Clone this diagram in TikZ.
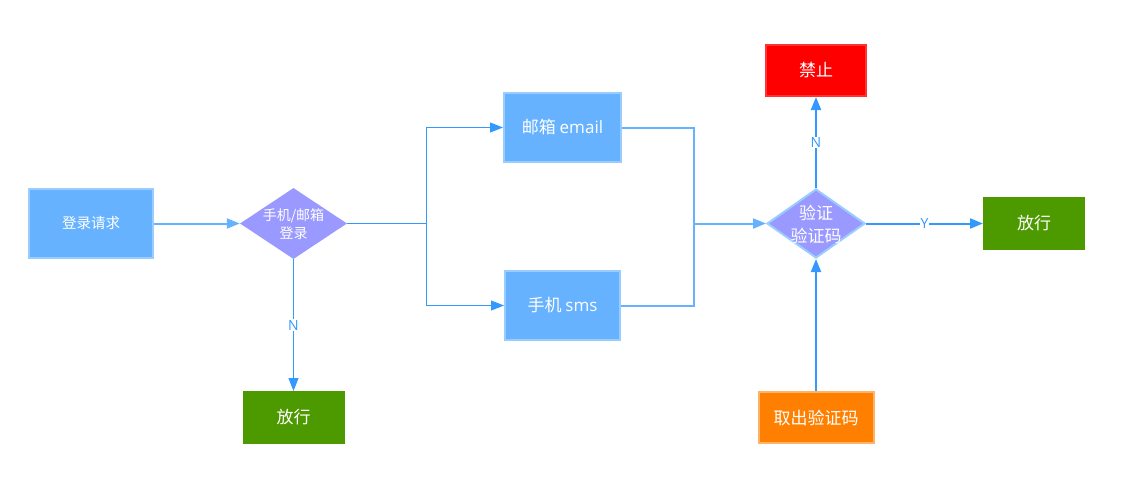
\documentclass[tikz,border=0pt]{standalone}
\usepackage{fontspec}
\setmainfont{Open Sans}
\newfontfamily\cjk{Noto Sans CJK SC}
\usetikzlibrary{shapes.geometric,arrows.meta}
\definecolor{boxblue}{HTML}{66B2FF}
\definecolor{boxblueb}{HTML}{99CCFF}
\definecolor{diafill}{HTML}{9999FF}
\definecolor{lndark}{HTML}{3399FF}
\definecolor{lnlight}{HTML}{66B2FF}
\definecolor{redf}{HTML}{FF0000}
\definecolor{redb}{HTML}{FF3333}
\definecolor{greenf}{HTML}{4D9900}
\definecolor{orangef}{HTML}{FF8000}
\definecolor{orangeb}{HTML}{FFB366}
\tikzset{
  box/.style={rectangle, inner sep=0pt, line width=2pt, text=white, font=\cjk\fontsize{17}{20}\selectfont},
  bluebox/.style={box, fill=boxblue, draw=boxblueb},
  dia/.style={diamond, inner sep=0pt, fill=diafill, minimum width=#1},
  txt/.style={text=white, align=center},
  lbl/.style={fill=white, inner sep=1pt, text=lndark, font=\fontsize{14}{16}\selectfont},
  tip/.style={-{Triangle[length=13pt,width=10pt]}},
  thinline/.style={draw=lndark, line width=1pt},
  lightline/.style={draw=lnlight, line width=2pt},
  darkline/.style={draw=lndark, line width=2pt},
}
\begin{document}
\begin{tikzpicture}[x=1pt,y=-1pt]
\useasboundingbox (0,0) rectangle (1144,495);
% nodes
\node[bluebox, minimum width=124pt, minimum height=69pt, font=\cjk\fontsize{14.5}{17}\selectfont] (req) at (91,223.5) {登录请求};
\node[dia=107pt, minimum height=71pt, aspect=1.5] (d1) at (293.5,223.5) {};
\node[txt, font=\cjk\fontsize{14}{18}\selectfont] (d1t) at (293.5,224) {手机/邮箱\\登录};
\node[bluebox, minimum width=117pt, minimum height=69pt] (email) at (562.5,127.5) {邮箱 {\fontspec{Open Sans}email}};
\node[bluebox, minimum width=115pt, minimum height=69pt] (sms) at (562.5,305.5) {手机 {\fontspec{Open Sans}sms}};
\node[dia=98pt, minimum height=69pt, aspect=1.4, draw=boxblueb, line width=2pt] (d2) at (816,223.5) {};
\node[txt, font=\cjk\fontsize{17}{23}\selectfont] (d2t) at (816,224.5) {验证\\验证码};
\node[box, fill=redf, draw=redb, minimum width=100pt, minimum height=51pt] (stop) at (816,70.5) {禁止};
\node[box, fill=greenf, line width=0pt, minimum width=102pt, minimum height=53pt] (pass1) at (1034,223.5) {放行};
\node[box, fill=greenf, line width=0pt, minimum width=102pt, minimum height=53pt] (pass2) at (293.5,417.5) {放行};
\node[box, fill=orangef, draw=orangeb, minimum width=115pt, minimum height=51pt] (take) at (816,417.5) {取出验证码};
\coordinate (split) at (426,223.5);
\coordinate (merge) at (694,223.5);
% connectors
\draw[lightline, tip] (req) -- (d1);
\draw[thinline] (d1.east) -- (split);
\draw[thinline, tip] (split) |- (email.west);
\draw[thinline, tip] (split) |- (sms.west);
\draw[thinline, tip] (d1.south) -- node[lbl]{N} (pass2.north);
\draw[lightline] (email.east) -| (merge);
\draw[lightline] (sms.east) -| (merge);
\draw[lightline, tip] (merge) -- (d2.west);
\draw[darkline, tip] (d2.north) -- node[lbl]{N} (stop.south);
\draw[darkline, tip] (d2.east) -- node[lbl]{Y} (pass1.west);
\draw[darkline, tip] (take.north) -- (d2.south);
\end{tikzpicture}
\end{document}
